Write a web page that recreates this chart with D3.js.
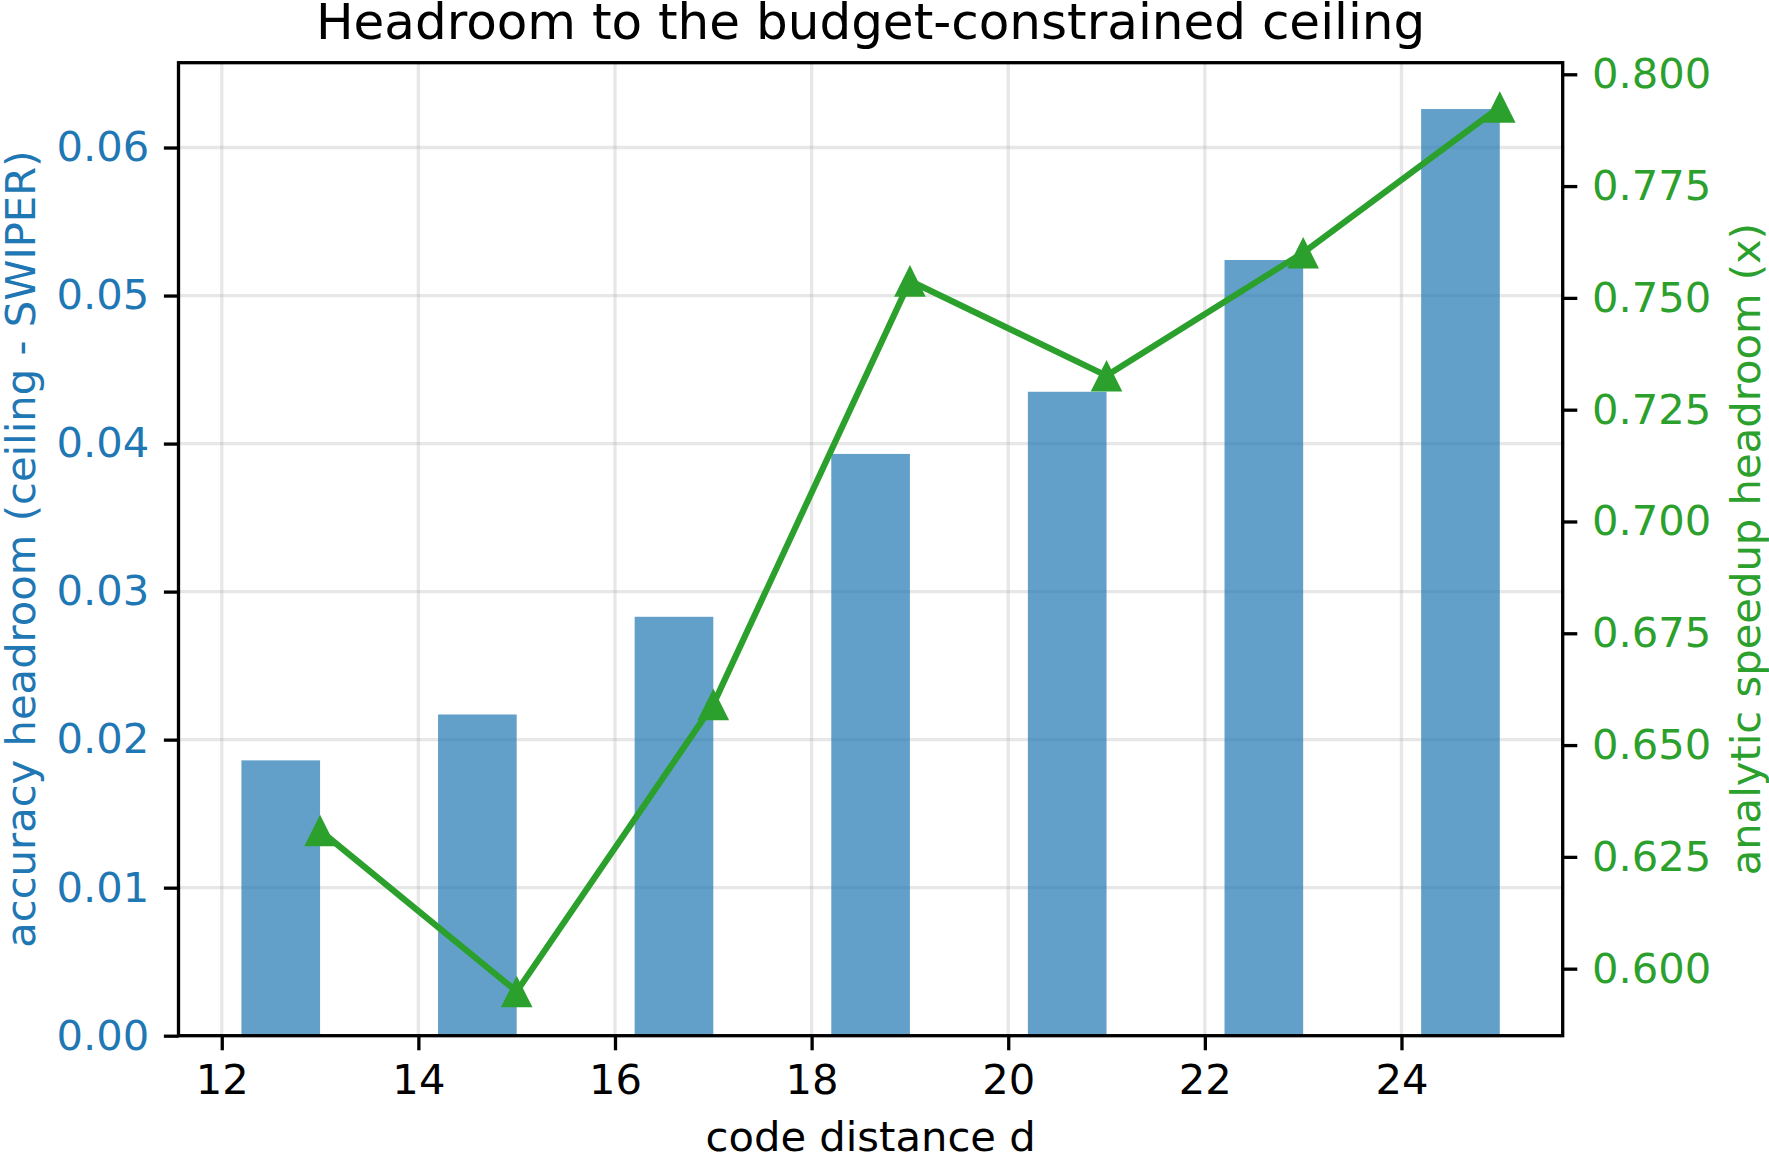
<!DOCTYPE html>
<html>
<head>
<meta charset="utf-8">
<script src="https://cdn.jsdelivr.net/npm/d3@7"></script>
<style>
  body { margin: 0; background: #fff; }
  svg text { font-family: "DejaVu Sans", sans-serif; }
</style>
</head>
<body>
<div id="vis"></div>
<script>
// ----------------
// 1. Data
// ----------------
const codeDistance = [13, 15, 17, 19, 21, 23, 25];
const accuracyHeadroom = [0.0186, 0.0217, 0.0283, 0.0393, 0.0435, 0.0524, 0.0626];
const speedupHeadroom = [0.6309, 0.5949, 0.6591, 0.7538, 0.7326, 0.7601, 0.7927];

const xTicks = [12, 14, 16, 18, 20, 22, 24];
const leftTicks = [0.00, 0.01, 0.02, 0.03, 0.04, 0.05, 0.06];
const rightTicks = [0.600, 0.625, 0.650, 0.675, 0.700, 0.725, 0.750, 0.775, 0.800];

const barWidth = 0.8;

// ----------------
// 2. Dimensions
// ----------------
const dimensions = {
    width: 1769,
    height: 1155,
    margin: {top: 62.7, right: 206.3, bottom: 119.3, left: 178.5}
};
dimensions.boundedWidth = dimensions.width - dimensions.margin.left - dimensions.margin.right;
dimensions.boundedHeight = dimensions.height - dimensions.margin.top - dimensions.margin.bottom;

const blue = "#1f77b4";
const green = "#2ca02c";
const fontSize = 41.7;
const tickLen = 14.6;
const spineW = 3.3;

// ----------------
// 3. SVG
// ----------------
const root = d3.select("#vis")
    .append("svg")
    .attr("width", dimensions.width)
    .attr("height", dimensions.height);

const svg = root.append("g")
    .attr("transform", `translate(${dimensions.margin.left}, ${dimensions.margin.top})`);

// ----------------
// 4. Scales
// ----------------
const xMin = d3.min(codeDistance) - barWidth;
const xMax = d3.max(codeDistance);
const xPad = (xMax - xMin) * 0.05;
const xScale = d3.scaleLinear()
    .domain([xMin - xPad, xMax + xPad])
    .range([0, dimensions.boundedWidth]);

const yLeft = d3.scaleLinear()
    .domain([0, d3.max(accuracyHeadroom) * 1.05])
    .range([dimensions.boundedHeight, 0]);

const rExt = d3.extent(speedupHeadroom);
const rPad = (rExt[1] - rExt[0]) * 0.05;
const yRight = d3.scaleLinear()
    .domain([rExt[0] - rPad, rExt[1] + rPad])
    .range([dimensions.boundedHeight, 0]);

// ----------------
// 5. Grid
// ----------------
const grid = svg.append("g")
    .attr("stroke", "#b0b0b0")
    .attr("stroke-opacity", 0.3)
    .attr("stroke-width", 3.3);

grid.selectAll(".gx")
    .data(xTicks)
    .join("line")
    .attr("x1", d => xScale(d))
    .attr("x2", d => xScale(d))
    .attr("y1", 0)
    .attr("y2", dimensions.boundedHeight);

grid.selectAll(".gy")
    .data(leftTicks)
    .join("line")
    .attr("x1", 0)
    .attr("x2", dimensions.boundedWidth)
    .attr("y1", d => yLeft(d))
    .attr("y2", d => yLeft(d));

// ----------------
// 6. Bars
// ----------------
svg.append("g")
    .selectAll("rect")
    .data(codeDistance)
    .join("rect")
    .attr("x", d => xScale(d - barWidth))
    .attr("width", d => xScale(d) - xScale(d - barWidth))
    .attr("y", (d, i) => yLeft(accuracyHeadroom[i]))
    .attr("height", (d, i) => yLeft(0) - yLeft(accuracyHeadroom[i]))
    .attr("fill", blue)
    .attr("fill-opacity", 0.7);

// ----------------
// 7. Line + markers
// ----------------
const line = d3.line()
    .x((d, i) => xScale(codeDistance[i]))
    .y(d => yRight(d));

svg.append("path")
    .datum(speedupHeadroom)
    .attr("d", line)
    .attr("fill", "none")
    .attr("stroke", green)
    .attr("stroke-width", 6.2)
    .attr("stroke-linejoin", "round");

const s = 15.8;
svg.append("g")
    .selectAll("path")
    .data(speedupHeadroom)
    .join("path")
    .attr("transform", (d, i) => `translate(${xScale(codeDistance[i])}, ${yRight(d)})`)
    .attr("d", `M0,${-s} L${-s},${s} L${s},${s} Z`)
    .attr("fill", green);

// ----------------
// 8. Axes
// ----------------
function styleAxis(g, color) {
    g.select(".domain").remove();
    g.selectAll(".tick line").attr("stroke", "#000").attr("stroke-width", spineW);
    g.selectAll(".tick text")
        .attr("fill", color)
        .style("font-size", fontSize + "px")
        .style("font-family", "DejaVu Sans, sans-serif");
}

svg.append("g")
    .attr("transform", `translate(0, ${dimensions.boundedHeight})`)
    .call(d3.axisBottom(xScale).tickValues(xTicks).tickFormat(d3.format("d"))
        .tickSize(tickLen).tickPadding(tickLen))
    .call(g => styleAxis(g, "#000"));

svg.append("g")
    .call(d3.axisLeft(yLeft).tickValues(leftTicks).tickFormat(d3.format(".2f"))
        .tickSize(tickLen).tickPadding(tickLen))
    .call(g => styleAxis(g, blue));

svg.append("g")
    .attr("transform", `translate(${dimensions.boundedWidth}, 0)`)
    .call(d3.axisRight(yRight).tickValues(rightTicks).tickFormat(d3.format(".3f"))
        .tickSize(tickLen).tickPadding(tickLen))
    .call(g => styleAxis(g, green));

// spines
svg.append("rect")
    .attr("x", 0)
    .attr("y", 0)
    .attr("width", dimensions.boundedWidth)
    .attr("height", dimensions.boundedHeight)
    .attr("fill", "none")
    .attr("stroke", "#000")
    .attr("stroke-width", spineW)
    .attr("stroke-linecap", "square");

// ----------------
// 9. Labels
// ----------------
root.append("text")
    .attr("x", dimensions.margin.left + dimensions.boundedWidth / 2)
    .attr("y", 38.5)
    .attr("text-anchor", "middle")
    .style("font-size", "50px")
    .text("Headroom to the budget-constrained ceiling");

root.append("text")
    .attr("x", dimensions.margin.left + dimensions.boundedWidth / 2)
    .attr("y", 1151)
    .attr("text-anchor", "middle")
    .style("font-size", fontSize + "px")
    .text("code distance d");

const midY = dimensions.margin.top + dimensions.boundedHeight / 2;

root.append("text")
    .attr("transform", `translate(34.5, ${midY}) rotate(-90)`)
    .attr("text-anchor", "middle")
    .attr("fill", blue)
    .style("font-size", fontSize + "px")
    .text("accuracy headroom (ceiling - SWIPER)");

root.append("text")
    .attr("transform", `translate(1760, ${midY}) rotate(-90)`)
    .attr("text-anchor", "middle")
    .attr("fill", green)
    .style("font-size", fontSize + "px")
    .text("analytic speedup headroom (x)");
</script>
</body>
</html>
